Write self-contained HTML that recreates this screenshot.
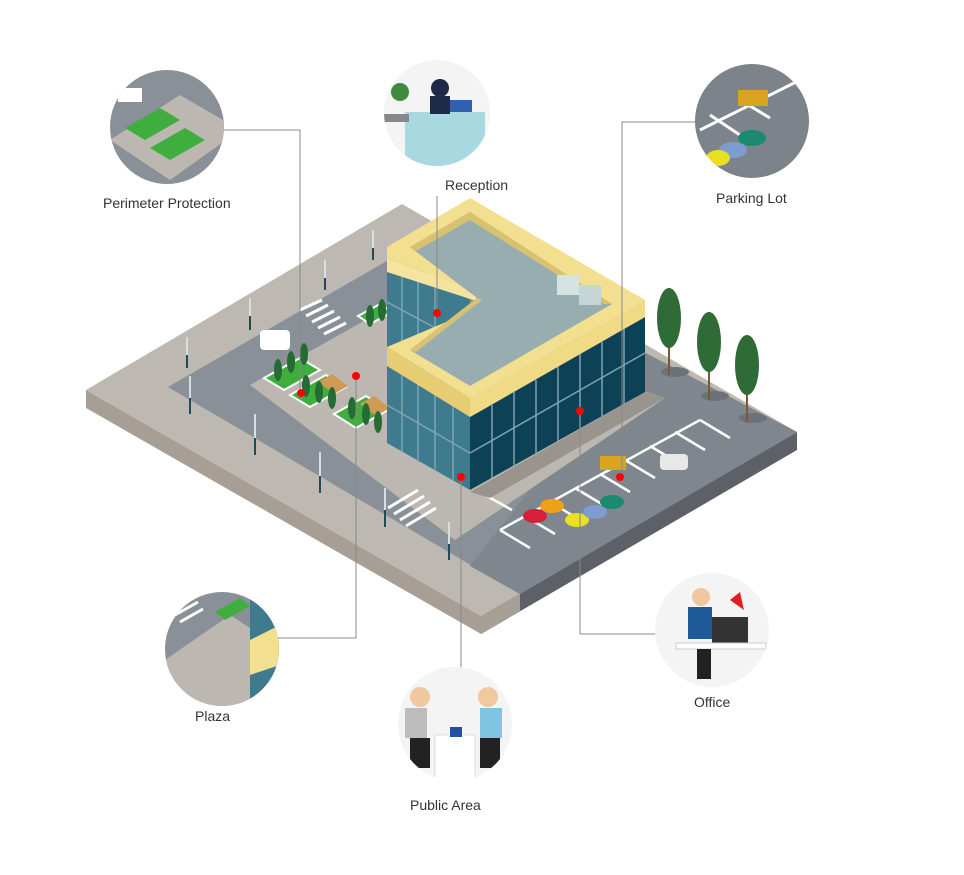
<!DOCTYPE html>
<html><head><meta charset="utf-8"><style>
body{margin:0;background:#fff;width:964px;height:875px;overflow:hidden}
svg{display:block}
text{font-family:"Liberation Sans",sans-serif;font-size:14px;fill:#333}
</style></head><body>
<svg width="964" height="875" viewBox="0 0 964 875" xmlns="http://www.w3.org/2000/svg">
<!-- platform -->
<polygon points="86,390 481,616 481,634 86,408" fill="#a79e95"/>
<polygon points="481,616 797,432 797,450 481,634" fill="#5d6167"/>
<polygon points="481,616 520,593 520,611 481,634" fill="#a79e95"/>
<polygon points="86,390 402,204 797,432 481,616" fill="#bdb8b2"/>
<!-- road -->
<polygon points="168,387 392,258 797,432 520,594" fill="#8a9097"/>
<polygon points="640,350 797,432 520,594 470,566" fill="#80868d"/>
<!-- inner plaza -->
<polygon points="250,385 387,308 665,398 455,540" fill="#bcb7b1"/>
<!-- crosswalks -->
<g stroke="#fff" stroke-width="3">
<line x1="300" y1="310" x2="322" y2="300"/><line x1="306" y1="316" x2="328" y2="305"/><line x1="312" y1="322" x2="334" y2="311"/><line x1="318" y1="328" x2="340" y2="317"/><line x1="324" y1="334" x2="346" y2="323"/>
<line x1="388" y1="508" x2="418" y2="490"/><line x1="394" y1="514" x2="424" y2="496"/><line x1="400" y1="520" x2="430" y2="502"/><line x1="406" y1="526" x2="436" y2="508"/>
</g>
<!-- parking lines -->
<g stroke="#fff" stroke-width="2.5" fill="none">
<line x1="500" y1="530" x2="700" y2="420"/>
<line x1="500" y1="530" x2="530" y2="548"/><line x1="525" y1="516" x2="555" y2="534"/><line x1="550" y1="502" x2="580" y2="520"/><line x1="575" y1="488" x2="605" y2="506"/><line x1="600" y1="474" x2="630" y2="492"/><line x1="625" y1="460" x2="655" y2="478"/><line x1="650" y1="446" x2="680" y2="464"/><line x1="675" y1="432" x2="705" y2="450"/><line x1="700" y1="420" x2="730" y2="438"/>
<line x1="512" y1="510" x2="485" y2="495"/>
</g>
<!-- cars -->
<g>
<ellipse cx="535" cy="516" rx="12" ry="7" fill="#d4203a"/><ellipse cx="552" cy="506" rx="12" ry="7" fill="#f0a019"/>
<ellipse cx="577" cy="520" rx="12" ry="7" fill="#e8e020"/><ellipse cx="595" cy="512" rx="12" ry="7" fill="#7d9cd0"/>
<ellipse cx="612" cy="502" rx="12" ry="7" fill="#1a8a70"/><rect x="600" y="456" width="26" height="14" fill="#d9a520"/>
<rect x="660" y="454" width="28" height="16" rx="4" fill="#e8e8e8"/>
<rect x="260" y="330" width="30" height="20" rx="4" fill="#fff"/>
</g>
<!-- planters -->
<g fill="#3fae3f" stroke="#fff" stroke-width="2">
<polygon points="264,378 300,358 320,370 284,390"/><polygon points="290,395 326,375 346,387 310,407"/><polygon points="334,414 366,396 388,410 356,428"/><polygon points="358,316 380,304 392,312 370,324"/>
</g>
<g fill="#d09a55"><polygon points="318,382 332,374 348,386 334,394"/><polygon points="360,404 374,396 390,408 376,416"/></g>
<g fill="#276b34">
<ellipse cx="278" cy="370" rx="4" ry="11"/><ellipse cx="291" cy="362" rx="4" ry="11"/><ellipse cx="304" cy="354" rx="4" ry="11"/>
<ellipse cx="306" cy="386" rx="4" ry="11"/><ellipse cx="319" cy="392" rx="4" ry="11"/><ellipse cx="332" cy="398" rx="4" ry="11"/>
<ellipse cx="352" cy="408" rx="4" ry="11"/><ellipse cx="366" cy="414" rx="4" ry="11"/><ellipse cx="378" cy="422" rx="4" ry="11"/>
<ellipse cx="370" cy="316" rx="4" ry="11"/><ellipse cx="382" cy="310" rx="4" ry="11"/>
</g>
<!-- big trees -->
<g><ellipse cx="675" cy="372" rx="14" ry="5" fill="#6d7278"/><line x1="669" y1="340" x2="669" y2="375" stroke="#7a5a30" stroke-width="2"/><ellipse cx="669" cy="318" rx="12" ry="30" fill="#2f6b37"/>
<ellipse cx="715" cy="396" rx="14" ry="5" fill="#6d7278"/><line x1="709" y1="365" x2="709" y2="400" stroke="#7a5a30" stroke-width="2"/><ellipse cx="709" cy="342" rx="12" ry="30" fill="#2f6b37"/>
<ellipse cx="753" cy="418" rx="14" ry="5" fill="#6d7278"/><line x1="747" y1="388" x2="747" y2="422" stroke="#7a5a30" stroke-width="2"/><ellipse cx="747" cy="365" rx="12" ry="30" fill="#2f6b37"/></g>
<!-- lamps -->
<g stroke-width="2">
<g stroke="#d8dde0"><line x1="373" y1="230" x2="373" y2="248"/><line x1="325" y1="260" x2="325" y2="278"/><line x1="250" y1="298" x2="250" y2="316"/><line x1="187" y1="337" x2="187" y2="355"/><line x1="190" y1="376" x2="190" y2="398"/><line x1="255" y1="414" x2="255" y2="438"/><line x1="320" y1="452" x2="320" y2="476"/><line x1="385" y1="488" x2="385" y2="510"/><line x1="449" y1="522" x2="449" y2="544"/></g>
<g stroke="#234a58"><line x1="373" y1="248" x2="373" y2="260"/><line x1="325" y1="278" x2="325" y2="290"/><line x1="250" y1="316" x2="250" y2="330"/><line x1="187" y1="355" x2="187" y2="368"/><line x1="190" y1="398" x2="190" y2="414"/><line x1="255" y1="438" x2="255" y2="455"/><line x1="320" y1="476" x2="320" y2="493"/><line x1="385" y1="510" x2="385" y2="527"/><line x1="449" y1="544" x2="449" y2="560"/></g>
</g>
<!-- building -->
<polygon points="470,492 645,392 665,398 490,498" fill="#9a948e"/>
<polygon points="387,250 470,300 470,490 387,443" fill="#3f7b8e"/>
<polygon points="470,417 645,317 645,392 470,490" fill="#0c4156"/>
<g stroke="#7fa4b0" stroke-width="1.5">
<line x1="387" y1="302" x2="450" y2="336"/><line x1="387" y1="405" x2="470" y2="453"/>
<line x1="402" y1="262" x2="402" y2="452"/><line x1="418" y1="272" x2="418" y2="462"/><line x1="435" y1="282" x2="435" y2="471"/><line x1="453" y1="360" x2="453" y2="481"/>
<line x1="470" y1="453" x2="645" y2="353"/>
<line x1="492" y1="405" x2="492" y2="478"/><line x1="514" y1="392" x2="514" y2="466"/><line x1="536" y1="380" x2="536" y2="453"/><line x1="558" y1="367" x2="558" y2="441"/><line x1="580" y1="354" x2="580" y2="428"/><line x1="602" y1="342" x2="602" y2="416"/><line x1="624" y1="329" x2="624" y2="404"/>
</g>
<!-- parapet faces -->
<polygon points="387,347 470,398 470,417 387,366" fill="#e6cd74"/>
<polygon points="470,398 645,300 645,317 470,417" fill="#f0da86"/>
<polygon points="387,258 498,300 498,308 387,272" fill="#f5e4a0"/>
<!-- roof top -->
<polygon points="387,247 470,198 645,300 470,398 387,347 498,300 387,258" fill="#f3df90"/>
<polygon points="410,247 470,212 612,304 470,386 410,350 477,298" fill="#98adb0"/>
<polygon points="410,247 470,212 470,220 416,251" fill="#d8c270"/>
<polygon points="470,212 612,304 604,304 470,220" fill="#d8c270"/>
<polygon points="410,350 477,298 482,300 416,352" fill="#d8c270"/>
<rect x="557" y="275" width="22" height="20" fill="#d7e3e3"/><rect x="579" y="285" width="22" height="20" fill="#c5d6d6"/>
<!-- connectors -->
<g stroke="#888" stroke-width="1" fill="none">
<polyline points="222,130 300,130 300,392"/>
<line x1="437" y1="196" x2="437" y2="313"/>
<polyline points="697,122 622,122 622,476"/>
<polyline points="278,638 356,638 356,376"/>
<line x1="461" y1="477" x2="461" y2="668"/>
<polyline points="580,411 580,634 655,634"/>
</g>
<g fill="#f00"><circle cx="301" cy="393" r="4"/><circle cx="437" cy="313" r="4"/><circle cx="620" cy="477" r="4"/><circle cx="356" cy="376" r="4"/><circle cx="461" cy="477" r="4"/><circle cx="580" cy="411" r="4"/></g>
<!-- circles -->
<defs>
<clipPath id="c1"><circle cx="167" cy="127" r="57"/></clipPath>
<clipPath id="c2"><circle cx="437" cy="113" r="53"/></clipPath>
<clipPath id="c3"><circle cx="752" cy="121" r="57"/></clipPath>
<clipPath id="c4"><circle cx="222" cy="649" r="57"/></clipPath>
<clipPath id="c5"><circle cx="455" cy="724" r="57"/></clipPath>
<clipPath id="c6"><circle cx="712" cy="630" r="57"/></clipPath>
</defs>
<g clip-path="url(#c1)"><rect x="100" y="60" width="140" height="130" fill="#8a9097"/><polygon points="110,140 180,95 240,130 170,180" fill="#bcb7b1"/><polygon points="125,128 160,108 180,120 145,140" fill="#3fae3f"/><polygon points="150,148 185,128 205,140 170,160" fill="#3fae3f"/><rect x="118" y="88" width="24" height="14" fill="#fff"/></g>
<g clip-path="url(#c2)"><rect x="380" y="55" width="115" height="120" fill="#f4f4f4"/><rect x="405" y="112" width="80" height="60" fill="#a8d8e0"/><rect x="384" y="114" width="25" height="8" fill="#888"/><circle cx="440" cy="88" r="9" fill="#1d2a48"/><rect x="430" y="96" width="20" height="18" fill="#1d2a48"/><rect x="450" y="100" width="22" height="12" fill="#3060b0"/><circle cx="400" cy="92" r="9" fill="#3d8b3d"/></g>
<g clip-path="url(#c3)"><rect x="690" y="60" width="125" height="125" fill="#7d838a"/><g stroke="#fff" stroke-width="3"><line x1="700" y1="130" x2="800" y2="80"/><line x1="710" y1="115" x2="740" y2="135"/><line x1="740" y1="100" x2="770" y2="118"/></g><rect x="738" y="90" width="30" height="16" fill="#d9a520"/><ellipse cx="752" cy="138" rx="14" ry="8" fill="#1a8a70"/><ellipse cx="733" cy="150" rx="14" ry="8" fill="#7d9cd0"/><ellipse cx="718" cy="158" rx="12" ry="8" fill="#e8e020"/></g>
<g clip-path="url(#c4)"><rect x="160" y="590" width="125" height="120" fill="#8a9097"/><polygon points="165,660 230,615 250,628 250,710 165,710" fill="#bcb7b1"/><polygon points="215,612 240,598 250,606 225,620" fill="#3fae3f"/><rect x="250" y="590" width="30" height="120" fill="#3f7b8e"/><polygon points="250,640 280,625 280,665 250,675" fill="#f3df90"/><g stroke="#fff" stroke-width="3"><line x1="175" y1="615" x2="198" y2="602"/><line x1="180" y1="622" x2="203" y2="609"/></g></g>
<g clip-path="url(#c5)"><rect x="395" y="665" width="120" height="120" fill="#f4f4f4"/><rect x="435" y="735" width="40" height="50" fill="#fff" stroke="#ddd"/><circle cx="420" cy="697" r="10" fill="#f0c8a0"/><rect x="405" y="708" width="22" height="30" fill="#bdbdbd"/><circle cx="488" cy="697" r="10" fill="#f0c8a0"/><rect x="480" y="708" width="22" height="30" fill="#7fc4e0"/><rect x="410" y="738" width="20" height="30" fill="#222"/><rect x="480" y="738" width="20" height="30" fill="#222"/><rect x="450" y="727" width="12" height="10" fill="#2050a0"/></g>
<g clip-path="url(#c6)"><rect x="650" y="570" width="125" height="125" fill="#f4f4f4"/><circle cx="701" cy="597" r="9" fill="#f0c8a0"/><rect x="688" y="607" width="24" height="32" fill="#1e5a9a"/><rect x="712" y="617" width="36" height="26" fill="#333"/><rect x="676" y="643" width="90" height="6" fill="#fff" stroke="#ccc"/><polygon points="730,600 740,592 744,610" fill="#e02020"/><rect x="697" y="649" width="14" height="30" fill="#222"/></g>
<!-- labels -->
<text x="103" y="208">Perimeter Protection</text>
<text x="445" y="190">Reception</text>
<text x="716" y="203">Parking Lot</text>
<text x="195" y="721">Plaza</text>
<text x="410" y="810">Public Area</text>
<text x="694" y="707">Office</text>
</svg>
</body></html>
